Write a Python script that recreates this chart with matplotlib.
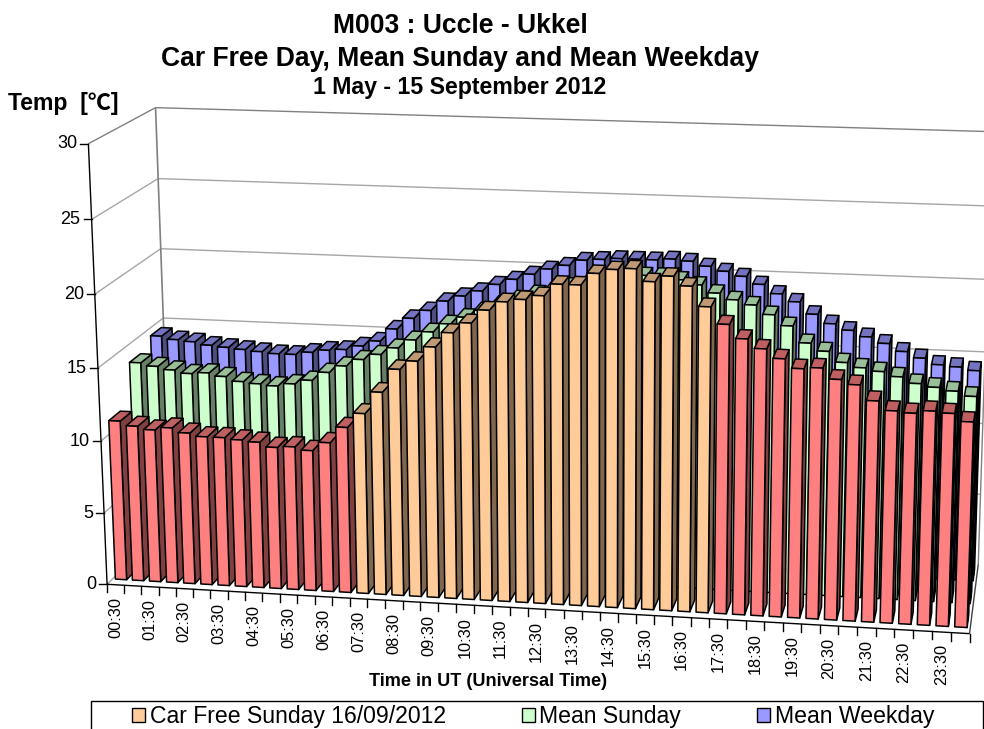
import numpy as np
from matplotlib import pyplot as plt
from matplotlib.collections import PolyCollection
from matplotlib.patches import Patch, Rectangle

FONT = ["Liberation Sans", "Noto Sans CJK SC", "DejaVu Sans"]
plt.rcParams["font.family"] = FONT

hour_labels = ["00:30", "01:30", "02:30", "03:30", "04:30", "05:30", "06:30", "07:30",
               "08:30", "09:30", "10:30", "11:30", "12:30", "13:30", "14:30", "15:30",
               "16:30", "17:30", "18:30", "19:30", "20:30", "21:30", "22:30", "23:30"]

# front row, the car free hours are bars 14 to 33
car_free_day = [11.1, 10.8, 10.6, 10.8, 10.5, 10.3, 10.3, 10.2, 10.1, 9.8, 9.9, 9.7,
                10.3, 11.4, 12.4, 13.9, 15.5, 16.1, 17.1, 18.1, 18.8, 19.7, 20.3, 20.5,
                20.8, 21.6, 21.6, 22.4, 22.7, 22.8, 22.0, 22.4, 21.8, 20.5, 19.4, 18.5,
                17.9, 17.3, 16.7, 16.8, 16.1, 15.8, 14.8, 14.2, 14.1, 14.3, 14.2, 13.7]

mean_sunday = [13.9, 13.7, 13.5, 13.3, 13.4, 13.2, 12.9, 12.8, 12.7, 12.9, 13.2, 13.8,
               14.3, 14.8, 15.2, 15.7, 16.3, 16.9, 17.5, 18.0, 18.5, 19.0, 19.4, 19.8,
               20.1, 20.4, 20.7, 20.9, 21.1, 21.3, 21.3, 21.1, 20.8, 20.3, 19.9, 19.6,
               19.0, 18.3, 17.2, 16.7, 16.0, 15.7, 15.5, 15.2, 14.8, 14.6, 14.4, 14.1]

mean_weekday = [14.6, 14.4, 14.3, 14.1, 14.0, 13.9, 13.8, 13.7, 13.7, 13.9, 14.1, 14.2,
                14.5, 14.9, 15.8, 16.6, 17.2, 17.9, 18.3, 18.7, 19.2, 19.6, 20.0, 20.4,
                20.7, 21.1, 21.2, 21.3, 21.3, 21.3, 21.4, 21.3, 21.0, 20.7, 20.4, 19.9,
                19.3, 18.8, 18.0, 17.4, 17.0, 16.6, 16.2, 15.7, 15.3, 14.9, 14.8, 14.6]

y_ticks = [0, 5, 10, 15, 20, 25, 30]

FREE_START = 14
FREE_END = 34
N_BARS = 48
Y_MAX = 30

# (front, top, side)
RED = ("#FF8080", "#BF6060", "#804040")
ORANGE = ("#FFCC99", "#BF9973", "#80664D")
GREEN = ("#CCFFCC", "#99BF99", "#668066")
BLUE = ("#9999FF", "#7373BF", "#4D4D80")

# wall corners as they sit in the image, used to fit the camera
world_pts = [(0, 0, 0), (0, 0, 5), (0, 0, 10), (0, 0, 15), (0, 0, 30), (0, 1, 30), (0, 1, 15),
             (0, 1, 0), (48, 0, 0), (48, 1, 0), (48, 1, 10), (48, 1, 15), (48, 1, 30)]
image_pts = [(107, 583), (104.5, 512), (101, 441), (97.5, 368), (88, 145), (156, 107), (163, 317),
             (171, 524), (970, 635), (977, 563), (983.5, 423), (985.5, 352), (992, 132)]


def fit_camera(world, image):
    rows = []
    for (x, d, z), (u, v) in zip(world, image):
        p = [x / N_BARS, d, z / Y_MAX, 1]
        u, v = u / 1000, v / 1000
        rows.append(p + [0, 0, 0, 0] + [-u * c for c in p])
        rows.append([0, 0, 0, 0] + p + [-v * c for c in p])
    _, _, vt = np.linalg.svd(np.array(rows))
    return vt[-1].reshape(3, 4)


CAM = fit_camera(world_pts, image_pts)


def project(x, d, z):
    h = CAM @ np.array([x / N_BARS, d, z / Y_MAX, 1.0])
    return h[0] / h[2] * 1000, h[1] / h[2] * 1000


def bar_faces(i, row, value):
    x0, x1 = i + 0.17, i + 0.83
    d0, d1 = row / 3 + 0.08, row / 3 + 0.25
    front = [project(x0, d0, 0), project(x1, d0, 0), project(x1, d0, value), project(x0, d0, value)]
    top = [project(x0, d0, value), project(x1, d0, value), project(x1, d1, value), project(x0, d1, value)]
    side = [project(x1, d0, 0), project(x1, d1, 0), project(x1, d1, value), project(x1, d0, value)]
    return side, top, front


def draw_row(ax, values, row, colors_for):
    verts = []
    colors = []
    for i, v in enumerate(values):
        side, top, front = bar_faces(i, row, v)
        c_front, c_top, c_side = colors_for(i)
        verts += [side, top, front]
        colors += [c_side, c_top, c_front]
    ax.add_collection(PolyCollection(verts, facecolors=colors, edgecolors="black",
                                     linewidths=1.1, joinstyle="round", zorder=3))


def line3(ax, a, b, color, lw=1.0, zorder=1):
    pa, pb = project(*a), project(*b)
    ax.plot([pa[0], pb[0]], [pa[1], pb[1]], color=color, lw=lw, zorder=zorder,
            solid_capstyle="butt")


fig = plt.figure(figsize=(9.84, 7.29), dpi=100)
ax = fig.add_axes([0, 0, 1, 1])
ax.set_xlim(0, 984)
ax.set_ylim(729, 0)
ax.axis("off")

# walls
for t in y_ticks[1:]:
    c = "#808080" if t == Y_MAX else "#A6A6A6"
    line3(ax, (0, 0, t), (0, 1, t), c)
    line3(ax, (0, 1, t), (N_BARS, 1, t), c)
line3(ax, (0, 0, 0), (0, 1, 0), "#A6A6A6")
line3(ax, (0, 1, 0), (0, 1, Y_MAX), "#808080", lw=1.2)
line3(ax, (N_BARS, 1, 0), (N_BARS, 1, Y_MAX), "#808080", lw=1.0)
line3(ax, (N_BARS, 0, 0), (N_BARS, 1, 0), "#404040")

# bars, back row first
draw_row(ax, mean_weekday, 2, lambda i: BLUE)
draw_row(ax, mean_sunday, 1, lambda i: GREEN)
draw_row(ax, car_free_day, 0, lambda i: ORANGE if FREE_START <= i < FREE_END else RED)

# axes on top of the walls
line3(ax, (0, 0, 0), (0, 0, Y_MAX), "black", zorder=4)
line3(ax, (0, 0, 0), (N_BARS, 0, 0), "black", zorder=4)

for t in y_ticks:
    x, y = project(0, 0, t)
    ax.plot([x - 8, x], [y, y], color="black", lw=1.0, zorder=4)
    ax.text(x - 11, y, str(t), ha="right", va="center", fontsize=13)

for i in range(N_BARS + 1):
    x, y = project(i, 0, 0)
    ax.plot([x, x], [y, y + 8], color="black", lw=1.0, zorder=4)

for n, label in enumerate(hour_labels):
    x, y = project(2 * n + 0.5, 0, 0)
    ax.text(x, y + 12, label, rotation=90, ha="center", va="top", fontsize=11.8)

ax.text(460, 25.5, "M003 : Uccle - Ukkel", ha="center", va="center", fontsize=19.1, fontweight="bold")
ax.text(460, 58.5, "Car Free Day, Mean Sunday and Mean Weekday", ha="center", va="center",
        fontsize=19.1, fontweight="bold")
ax.text(460, 87.5, "1 May - 15 September 2012", ha="center", va="center", fontsize=16.7, fontweight="bold")
ax.text(8, 103, "Temp  [℃]", ha="left", va="center", fontsize=16.6, fontweight="bold")
ax.text(488, 682, "Time in UT (Universal Time)", ha="center", va="center", fontsize=13.1, fontweight="bold")

# legend box runs off the bottom of the picture
ax.add_patch(Rectangle((91, 701), 892, 60, facecolor="white", edgecolor="black", lw=1.0, zorder=5))
handles = [Patch(facecolor=ORANGE[0], edgecolor="black", lw=1.0),
           Patch(facecolor=GREEN[0], edgecolor="black", lw=1.0),
           Patch(facecolor=BLUE[0], edgecolor="black", lw=1.0)]
leg = ax.legend(handles, ["Car Free Sunday 16/09/2012", "Mean Sunday", "Mean Weekday"],
                ncol=3, loc="upper left", bbox_to_anchor=(132, 705), bbox_transform=ax.transData,
                frameon=False, fontsize=16.6, borderpad=0, borderaxespad=0,
                handlelength=0.58, handleheight=0.58, handletextpad=0.18, columnspacing=3.3)
leg.set_zorder(6)

fig.savefig("out.png", dpi=100)
